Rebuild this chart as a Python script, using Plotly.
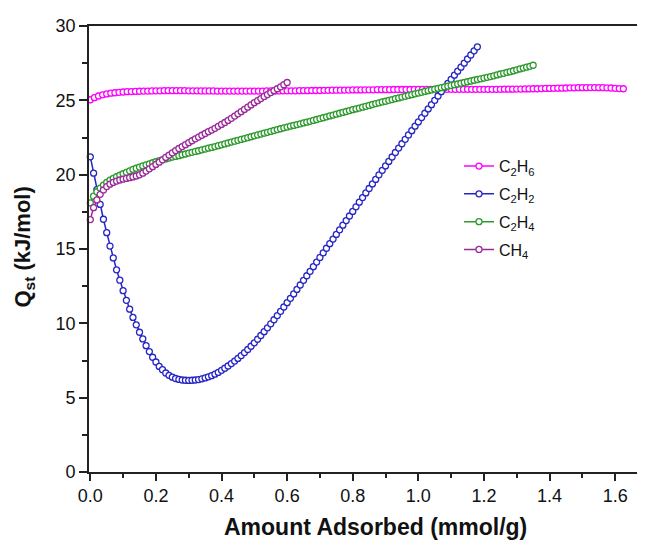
import plotly.graph_objects as go

# ---------------- data ----------------
c2h6_x = [0.0, 0.0125, 0.025, 0.0375, 0.05, 0.0625, 0.075, 0.0875, 0.1, 0.1125, 0.125, 0.1375, 0.15, 0.1625, 0.175, 0.1875,
          0.2, 0.2125, 0.225, 0.2375, 0.25, 0.2625, 0.275, 0.2875, 0.3, 0.3125, 0.325, 0.3375, 0.35, 0.3625, 0.375, 0.3875,
          0.4, 0.4125, 0.425, 0.4375, 0.45, 0.4625, 0.475, 0.4875, 0.5, 0.5125, 0.525, 0.5375, 0.55, 0.5625, 0.575, 0.5875,
          0.6, 0.6125, 0.625, 0.6375, 0.65, 0.6625, 0.675, 0.6875, 0.7, 0.7125, 0.725, 0.7375, 0.75, 0.7625, 0.775, 0.7875,
          0.8, 0.8125, 0.825, 0.8375, 0.85, 0.8625, 0.875, 0.8875, 0.9, 0.9125, 0.925, 0.9375, 0.95, 0.9625, 0.975, 0.9875,
          1.0, 1.0125, 1.025, 1.0375, 1.05, 1.0625, 1.075, 1.0875, 1.1, 1.1125, 1.125, 1.1375, 1.15, 1.1625, 1.175, 1.1875,
          1.2, 1.2125, 1.225, 1.2375, 1.25, 1.2625, 1.275, 1.2875, 1.3, 1.3125, 1.325, 1.3375, 1.35, 1.3625, 1.375, 1.3875,
          1.4, 1.4125, 1.425, 1.4375, 1.45, 1.4625, 1.475, 1.4875, 1.5, 1.5125, 1.525, 1.5375, 1.55, 1.5625, 1.575, 1.5875,
          1.6, 1.6125, 1.625]
c2h6_y = [25.04, 25.18, 25.29, 25.37, 25.43, 25.48, 25.51, 25.54, 25.56, 25.58, 25.59, 25.60, 25.61, 25.62, 25.62, 25.63,
          25.64, 25.64, 25.65, 25.65, 25.65, 25.65, 25.65, 25.65, 25.64, 25.64, 25.64, 25.63, 25.63, 25.63, 25.63, 25.62,
          25.62, 25.62, 25.62, 25.62, 25.62, 25.62, 25.62, 25.62, 25.62, 25.62, 25.62, 25.63, 25.63, 25.63, 25.63, 25.64,
          25.64, 25.64, 25.64, 25.65, 25.65, 25.65, 25.66, 25.66, 25.66, 25.67, 25.67, 25.68, 25.68, 25.68, 25.69, 25.69,
          25.70, 25.70, 25.70, 25.71, 25.71, 25.71, 25.72, 25.72, 25.72, 25.72, 25.73, 25.73, 25.73, 25.73, 25.73, 25.74,
          25.74, 25.74, 25.74, 25.74, 25.74, 25.74, 25.74, 25.74, 25.74, 25.74, 25.74, 25.74, 25.74, 25.74, 25.74, 25.74,
          25.74, 25.74, 25.74, 25.74, 25.74, 25.75, 25.75, 25.75, 25.76, 25.76, 25.77, 25.77, 25.78, 25.78, 25.79, 25.80,
          25.80, 25.81, 25.82, 25.82, 25.83, 25.84, 25.84, 25.85, 25.85, 25.85, 25.86, 25.86, 25.85, 25.85, 25.84, 25.83,
          25.81, 25.79, 25.78]

c2h2_x = [0.0, 0.01, 0.02, 0.03, 0.04, 0.05, 0.06, 0.07, 0.08, 0.09, 0.1, 0.11, 0.12, 0.13, 0.14, 0.15, 0.16, 0.17, 0.18, 0.19,
          0.2, 0.21, 0.22, 0.23, 0.24, 0.25, 0.26, 0.27, 0.28, 0.29, 0.3, 0.31, 0.32, 0.33, 0.34, 0.35, 0.36, 0.37, 0.38, 0.39,
          0.4, 0.41, 0.42, 0.43, 0.44, 0.45, 0.46, 0.47, 0.48, 0.49, 0.5, 0.51, 0.52, 0.53, 0.54, 0.55, 0.56, 0.57, 0.58, 0.59,
          0.6, 0.61, 0.62, 0.63, 0.64, 0.65, 0.66, 0.67, 0.68, 0.69, 0.7, 0.71, 0.72, 0.73, 0.74, 0.75, 0.76, 0.77, 0.78, 0.79,
          0.8, 0.81, 0.82, 0.83, 0.84, 0.85, 0.86, 0.87, 0.88, 0.89, 0.9, 0.91, 0.92, 0.93, 0.94, 0.95, 0.96, 0.97, 0.98, 0.99,
          1.0, 1.01, 1.02, 1.03, 1.04, 1.05, 1.06, 1.07, 1.08, 1.09, 1.1, 1.11, 1.12, 1.13, 1.14, 1.15, 1.16, 1.17, 1.18]
c2h2_y = [21.2, 20.1, 19.0, 18.0, 17.0, 16.1, 15.2, 14.4, 13.6, 12.9, 12.2, 11.55, 10.95, 10.4, 9.9, 9.4, 8.95, 8.5, 8.1, 7.72,
          7.4, 7.1, 6.88, 6.66, 6.5, 6.38, 6.29, 6.23, 6.19, 6.17, 6.16, 6.17, 6.19, 6.22, 6.27, 6.33, 6.4, 6.48, 6.58, 6.7,
          6.84, 6.98, 7.13, 7.29, 7.46, 7.64, 7.83, 8.03, 8.24, 8.46, 8.69, 8.93, 9.18, 9.44, 9.7, 9.97, 10.24, 10.52, 10.81, 11.1,
          11.39, 11.68, 11.98, 12.28, 12.58, 12.89, 13.2, 13.5, 13.81, 14.12, 14.43, 14.74, 15.05, 15.36, 15.67, 15.98, 16.29, 16.6, 16.91, 17.22,
          17.53, 17.84, 18.15, 18.46, 18.77, 19.07, 19.38, 19.68, 19.99, 20.29, 20.59, 20.89, 21.19, 21.49, 21.79, 22.08, 22.38, 22.67, 22.96, 23.26,
          23.55, 23.84, 24.13, 24.42, 24.71, 25.0, 25.29, 25.58, 25.87, 26.14, 26.41, 26.69, 26.96, 27.23, 27.5, 27.78, 28.05, 28.33, 28.6]

c2h4_x = [0.0, 0.01, 0.02, 0.03, 0.04, 0.05, 0.06, 0.07, 0.08, 0.09, 0.1, 0.11, 0.12, 0.13, 0.14, 0.15, 0.16, 0.17, 0.18, 0.19,
          0.2, 0.21, 0.22, 0.23, 0.24, 0.25, 0.26, 0.27, 0.28, 0.29, 0.3, 0.31, 0.32, 0.33, 0.34, 0.35, 0.36, 0.37, 0.38, 0.39,
          0.4, 0.41, 0.42, 0.43, 0.44, 0.45, 0.46, 0.47, 0.48, 0.49, 0.5, 0.51, 0.52, 0.53, 0.54, 0.55, 0.56, 0.57, 0.58, 0.59,
          0.6, 0.61, 0.62, 0.63, 0.64, 0.65, 0.66, 0.67, 0.68, 0.69, 0.7, 0.71, 0.72, 0.73, 0.74, 0.75, 0.76, 0.77, 0.78, 0.79,
          0.8, 0.81, 0.82, 0.83, 0.84, 0.85, 0.86, 0.87, 0.88, 0.89, 0.9, 0.91, 0.92, 0.93, 0.94, 0.95, 0.96, 0.97, 0.98, 0.99,
          1.0, 1.01, 1.02, 1.03, 1.04, 1.05, 1.06, 1.07, 1.08, 1.09, 1.1, 1.11, 1.12, 1.13, 1.14, 1.15, 1.16, 1.17, 1.18, 1.19,
          1.2, 1.21, 1.22, 1.23, 1.24, 1.25, 1.26, 1.27, 1.28, 1.29, 1.3, 1.31, 1.32, 1.33, 1.34, 1.35]
c2h4_y = [18.1, 18.55, 18.85, 19.1, 19.3, 19.48, 19.63, 19.75, 19.86, 19.96, 20.06, 20.16, 20.26, 20.35, 20.43, 20.51, 20.59, 20.66, 20.73, 20.8,
          20.87, 20.94, 21.0, 21.06, 21.12, 21.18, 21.23, 21.28, 21.34, 21.39, 21.45, 21.5, 21.56, 21.61, 21.67, 21.72, 21.78, 21.83, 21.89, 21.95,
          22.01, 22.07, 22.13, 22.19, 22.25, 22.31, 22.37, 22.43, 22.49, 22.55, 22.61, 22.67, 22.73, 22.79, 22.85, 22.91, 22.97, 23.03, 23.09, 23.15,
          23.2, 23.26, 23.31, 23.37, 23.42, 23.48, 23.53, 23.59, 23.65, 23.71, 23.77, 23.83, 23.89, 23.95, 24.01, 24.07, 24.13, 24.19, 24.25, 24.31,
          24.37, 24.42, 24.48, 24.54, 24.6, 24.66, 24.72, 24.78, 24.83, 24.89, 24.94, 25.0, 25.05, 25.11, 25.16, 25.22, 25.27, 25.33, 25.38, 25.44,
          25.49, 25.54, 25.6, 25.65, 25.7, 25.75, 25.8, 25.85, 25.9, 25.95, 26.0, 26.05, 26.1, 26.15, 26.2, 26.25, 26.3, 26.35, 26.4, 26.45,
          26.5, 26.55, 26.6, 26.65, 26.71, 26.77, 26.82, 26.88, 26.93, 26.99, 27.05, 27.11, 27.17, 27.23, 27.29, 27.36]

ch4_x = [0.0, 0.01, 0.02, 0.03, 0.04, 0.05, 0.06, 0.07, 0.08, 0.09, 0.1, 0.11, 0.12, 0.13, 0.14, 0.15, 0.16, 0.17, 0.18, 0.19,
         0.2, 0.21, 0.22, 0.23, 0.24, 0.25, 0.26, 0.27, 0.28, 0.29, 0.3, 0.31, 0.32, 0.33, 0.34, 0.35, 0.36, 0.37, 0.38, 0.39,
         0.4, 0.41, 0.42, 0.43, 0.44, 0.45, 0.46, 0.47, 0.48, 0.49, 0.5, 0.51, 0.52, 0.53, 0.54, 0.55, 0.56, 0.57, 0.58, 0.59, 0.6]
ch4_y = [16.98, 17.78, 18.3, 18.68, 18.97, 19.2, 19.36, 19.48, 19.57, 19.64, 19.7, 19.75, 19.8, 19.85, 19.91, 19.99, 20.1, 20.24, 20.39, 20.54,
         20.69, 20.84, 21.0, 21.16, 21.32, 21.47, 21.62, 21.76, 21.89, 22.02, 22.15, 22.28, 22.41, 22.53, 22.65, 22.77, 22.89, 23.0, 23.12, 23.25,
         23.38, 23.51, 23.65, 23.79, 23.94, 24.09, 24.24, 24.39, 24.54, 24.69, 24.84, 24.98, 25.12, 25.26, 25.39, 25.52, 25.65, 25.78, 25.91, 26.05, 26.2]

series_names = ["C<sub>2</sub>H<sub>6</sub>", "C<sub>2</sub>H<sub>2</sub>", "C<sub>2</sub>H<sub>4</sub>", "CH<sub>4</sub>"]
series_colors = ["#FF00FF", "#2626C4", "#2E9A2E", "#9A2A9A"]
series_x = [c2h6_x, c2h2_x, c2h4_x, ch4_x]
series_y = [c2h6_y, c2h2_y, c2h4_y, ch4_y]

x_ticks = [0.0, 0.2, 0.4, 0.6, 0.8, 1.0, 1.2, 1.4, 1.6]
y_ticks = [0, 5, 10, 15, 20, 25, 30]

FONT = "Arial, Liberation Sans, sans-serif"

# page body has an 8px default margin: compensate so the window shows the intended layout
OFF = 8
L, T = 89 - OFF, 23 - OFF
PLOT_W, PLOT_H = 556, 449
W, H = 645, 542

fig = go.Figure()
for i, (name, col, xs, ys) in enumerate(zip(series_names, series_colors, series_x, series_y)):
    fig.add_trace(go.Scatter(
        x=xs, y=ys, name=name, mode="lines+markers", legendgroup=f"g{i}",
        line=dict(color=col, width=1.5),
        marker=dict(symbol="circle", size=6, color="white", line=dict(color=col, width=1.3)),
        cliponaxis=False,
    ))

def px_to_paper_x(px):
    return (px - 89) / PLOT_W

def px_to_paper_y(py):
    return 1 - (py - 23) / PLOT_H

fig.update_layout(
    width=W, height=H,
    margin=dict(l=L, r=W - L - PLOT_W, t=T, b=H - T - PLOT_H),
    paper_bgcolor="white", plot_bgcolor="white",
    font=dict(family=FONT, color="#111", size=18),
    showlegend=True,
    legend=dict(x=px_to_paper_x(459), y=px_to_paper_y(147), xanchor="left", yanchor="top",
                font=dict(size=16, family=FONT, color="#111"),
                bgcolor="rgba(0,0,0,0)", tracegroupgap=4),
    xaxis=dict(range=[-0.004, 1.691], tickvals=x_ticks, tickformat=".1f",
               showgrid=False, zeroline=False, showline=True, linecolor="#222", linewidth=1.6,
               mirror=True, ticks="outside", ticklen=7, tickwidth=1.6, tickcolor="#222",
               tickfont=dict(size=18, family=FONT, color="#111"),
               minor=dict(dtick=0.1, ticks="outside", ticklen=4, tickwidth=1.6, tickcolor="#222")),
    yaxis=dict(range=[0, 30], tickvals=y_ticks,
               showgrid=False, zeroline=False, showline=True, linecolor="#222", linewidth=1.6,
               mirror=False, ticks="outside", ticklen=8, tickwidth=1.6, tickcolor="#222",
               tickfont=dict(size=18, family=FONT, color="#111"),
               minor=dict(dtick=2.5, ticks="outside", ticklen=5, tickwidth=1.6, tickcolor="#222")),
    annotations=[
        dict(text="<b>Amount Adsorbed (mmol/g)</b>", xref="paper", yref="paper",
             x=px_to_paper_x(375), y=px_to_paper_y(527), xanchor="center", yanchor="middle",
             showarrow=False, font=dict(size=23, family=FONT, color="#111")),
        dict(text="<b>Q<sub>st</sub> (kJ/mol)</b>", xref="paper", yref="paper",
             x=px_to_paper_x(24), y=px_to_paper_y(246), xanchor="center", yanchor="middle",
             textangle=-90, showarrow=False, font=dict(size=22, family=FONT, color="#111")),
    ],
)

fig.write_html("out.html")
